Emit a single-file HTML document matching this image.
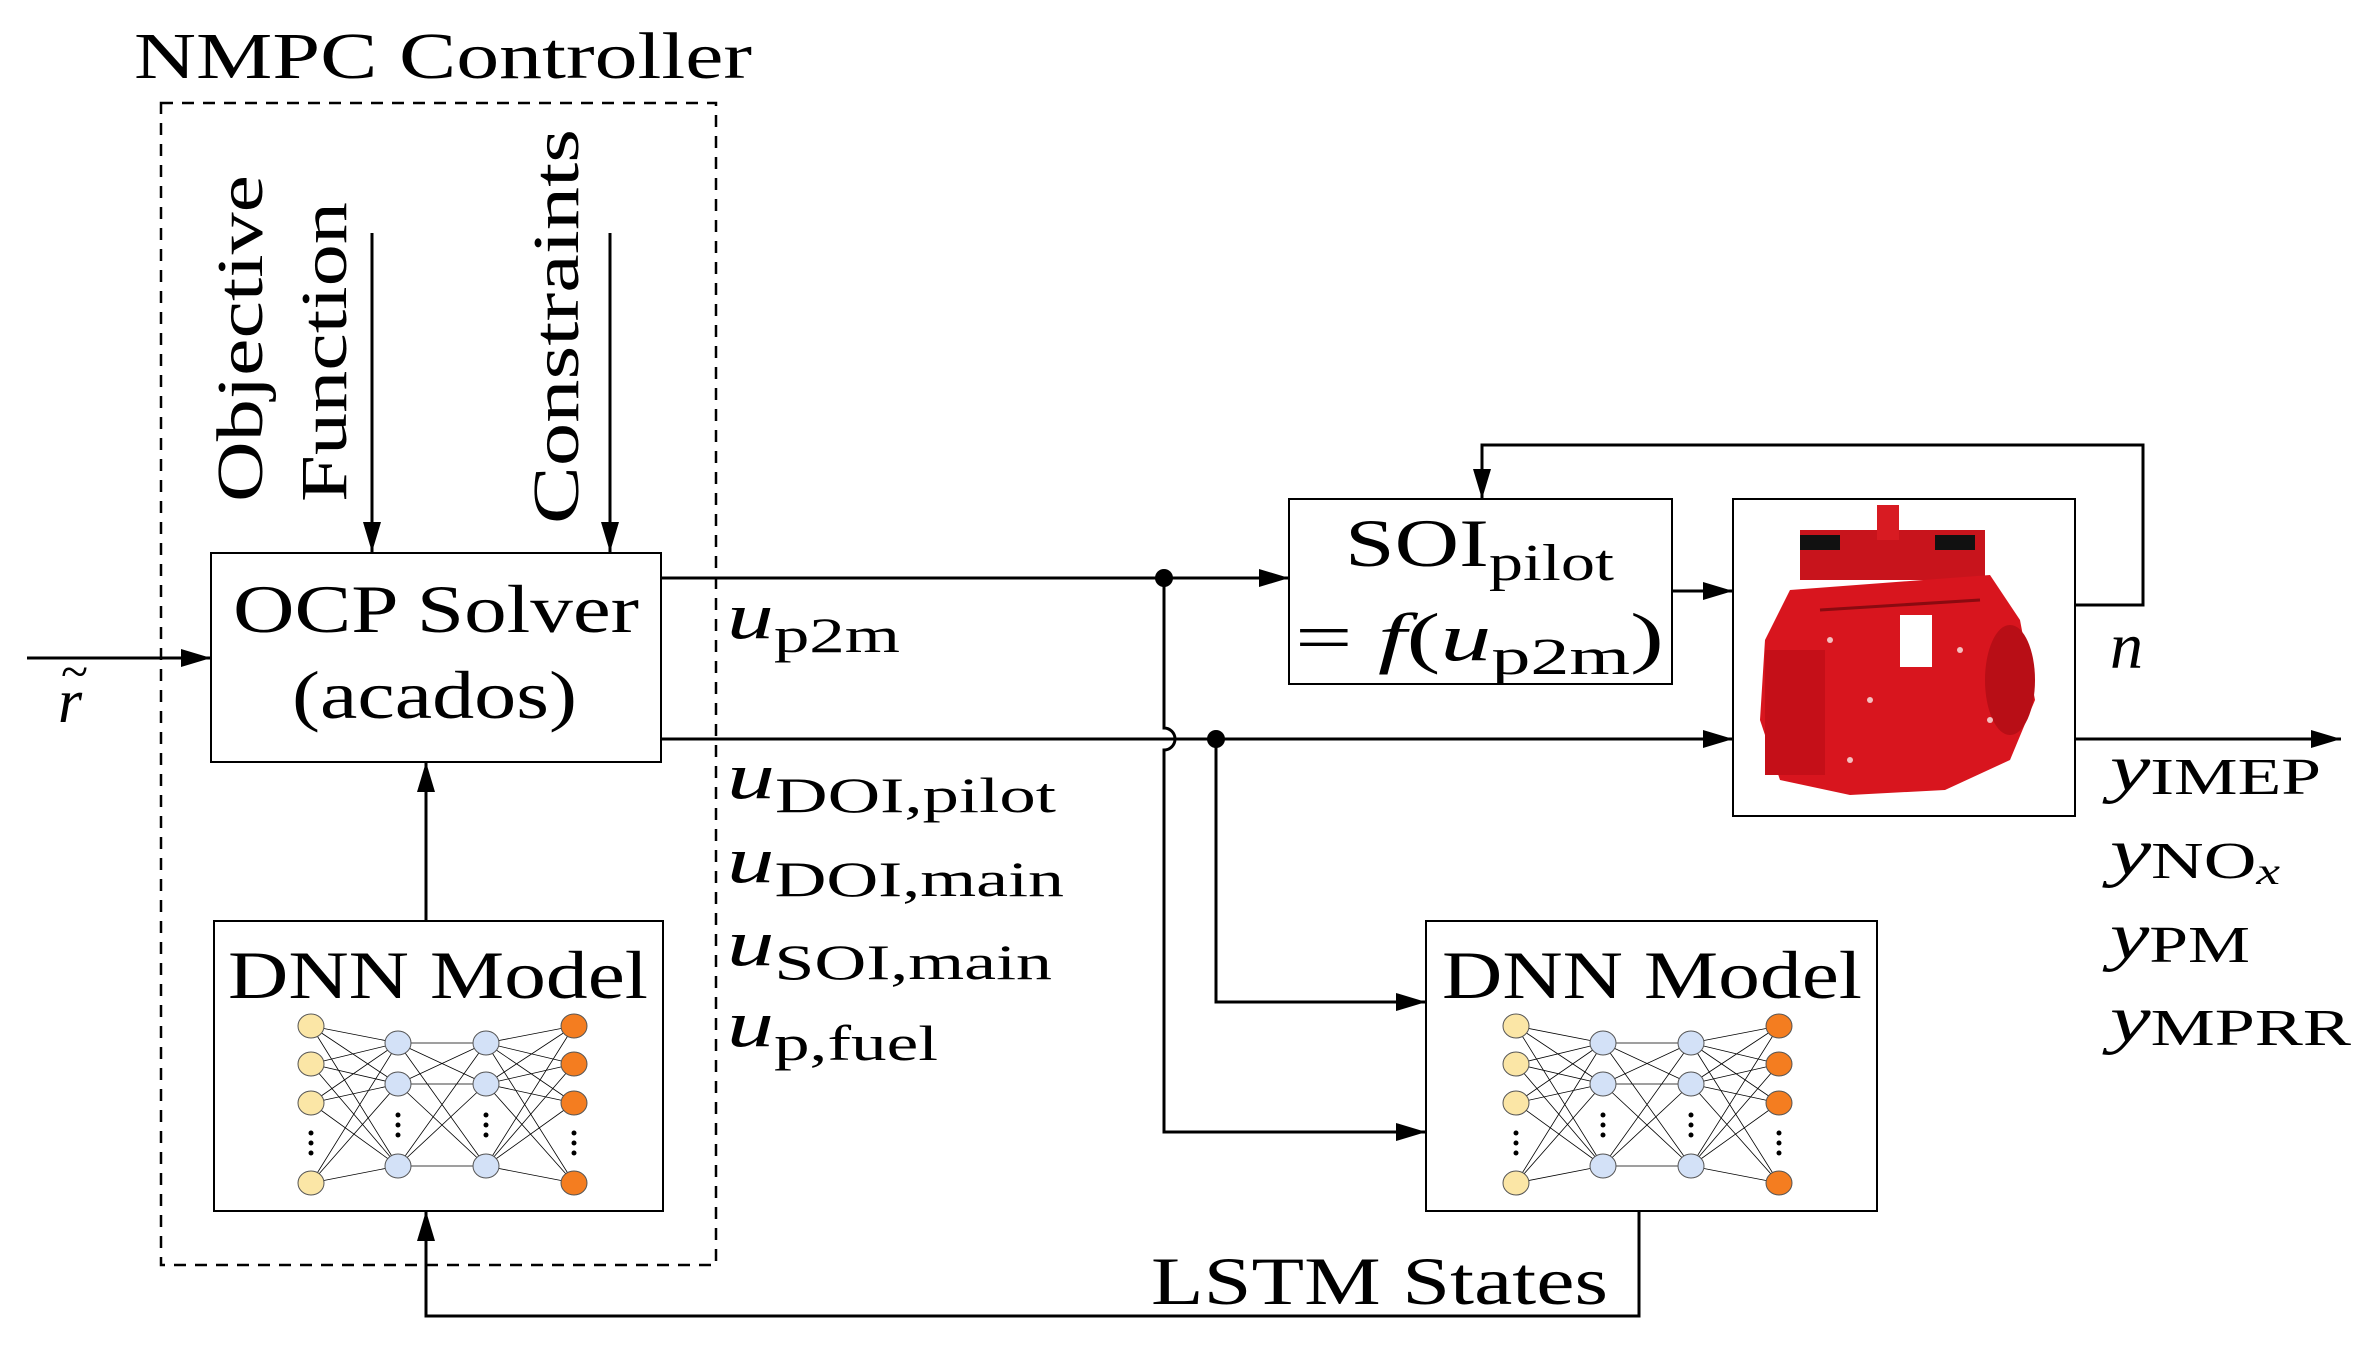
<!DOCTYPE html>
<html><head><meta charset="utf-8"><style>html,body{margin:0;padding:0;background:#fff}svg{display:block}</style></head>
<body>
<svg width="2372" height="1346" viewBox="0 0 2372 1346" xmlns="http://www.w3.org/2000/svg" font-family="Liberation Serif, serif">
<defs>
<marker id="A" viewBox="0 0 10 6" refX="10" refY="3" markerWidth="30" markerHeight="18" orient="auto" markerUnits="userSpaceOnUse"><path d="M0,0 L10,3 L0,6 z" fill="#000"/></marker>
<g id="nn">
 <g stroke="#000" stroke-width="0.8" fill="none">
  <path d="M97,105 L184,122 M97,105 L184,163 M97,105 L184,245 M97,143 L184,122 M97,143 L184,163 M97,143 L184,245 M97,182 L184,122 M97,182 L184,163 M97,182 L184,245 M97,262 L184,122 M97,262 L184,163 M97,262 L184,245"/>
  <path d="M184,122 L272,122 M184,122 L272,163 M184,122 L272,245 M184,163 L272,122 M184,163 L272,163 M184,163 L272,245 M184,245 L272,122 M184,245 L272,163 M184,245 L272,245"/>
  <path d="M272,122 L360,105 M272,122 L360,143 M272,122 L360,182 M272,122 L360,262 M272,163 L360,105 M272,163 L360,143 M272,163 L360,182 M272,163 L360,262 M272,245 L360,105 M272,245 L360,143 M272,245 L360,182 M272,245 L360,262"/>
 </g>
 <g stroke="#555" stroke-width="1">
  <ellipse cx="97" cy="105" rx="13" ry="12" fill="#fbe6a6"/><ellipse cx="97" cy="143" rx="13" ry="12" fill="#fbe6a6"/><ellipse cx="97" cy="182" rx="13" ry="12" fill="#fbe6a6"/><ellipse cx="97" cy="262" rx="13" ry="12" fill="#fbe6a6"/>
  <ellipse cx="184" cy="122" rx="13" ry="12" fill="#d3e1f7"/><ellipse cx="184" cy="163" rx="13" ry="12" fill="#d3e1f7"/><ellipse cx="184" cy="245" rx="13" ry="12" fill="#d3e1f7"/>
  <ellipse cx="272" cy="122" rx="13" ry="12" fill="#d3e1f7"/><ellipse cx="272" cy="163" rx="13" ry="12" fill="#d3e1f7"/><ellipse cx="272" cy="245" rx="13" ry="12" fill="#d3e1f7"/>
  <ellipse cx="360" cy="105" rx="13" ry="12" fill="#f47d20"/><ellipse cx="360" cy="143" rx="13" ry="12" fill="#f47d20"/><ellipse cx="360" cy="182" rx="13" ry="12" fill="#f47d20"/><ellipse cx="360" cy="262" rx="13" ry="12" fill="#f47d20"/>
 </g>
 <g fill="#000">
  <circle cx="97" cy="212" r="2.5"/><circle cx="97" cy="222" r="2.5"/><circle cx="97" cy="232" r="2.5"/>
  <circle cx="184" cy="194" r="2.5"/><circle cx="184" cy="204" r="2.5"/><circle cx="184" cy="214" r="2.5"/>
  <circle cx="272" cy="194" r="2.5"/><circle cx="272" cy="204" r="2.5"/><circle cx="272" cy="214" r="2.5"/>
  <circle cx="360" cy="212" r="2.5"/><circle cx="360" cy="222" r="2.5"/><circle cx="360" cy="232" r="2.5"/>
 </g>
</g>
</defs>

<text x="134" y="78" font-size="66" textLength="618" lengthAdjust="spacingAndGlyphs">NMPC Controller</text>
<rect x="161" y="103" width="555" height="1162" fill="none" stroke="#000" stroke-width="2.5" stroke-dasharray="12,9"/>

<text transform="translate(262,502) rotate(-90)" font-size="66" textLength="327" lengthAdjust="spacingAndGlyphs">Objective</text>
<text transform="translate(346,502) rotate(-90)" font-size="66" textLength="300" lengthAdjust="spacingAndGlyphs">Function</text>
<text transform="translate(578,524) rotate(-90)" font-size="66" textLength="395" lengthAdjust="spacingAndGlyphs">Constraints</text>
<g stroke="#000" stroke-width="3" fill="none" marker-end="url(#A)">
 <line x1="372" y1="233" x2="372" y2="552"/>
 <line x1="610" y1="233" x2="610" y2="552"/>
</g>

<rect x="211" y="553" width="450" height="209" fill="#fff" stroke="#000" stroke-width="2"/>
<text x="233" y="632" font-size="68" textLength="406" lengthAdjust="spacingAndGlyphs">OCP Solver</text>
<text x="292" y="718" font-size="68" textLength="285" lengthAdjust="spacingAndGlyphs">(acados)</text>

<line x1="27" y1="658" x2="211" y2="658" stroke="#000" stroke-width="3" marker-end="url(#A)"/>
<text x="58" y="722" font-size="62" font-style="italic">r</text>
<text x="61" y="688" font-size="50">~</text>

<rect x="214" y="921" width="449" height="290" fill="#fff" stroke="#000" stroke-width="2"/>
<text x="228" y="998" font-size="68" textLength="420" lengthAdjust="spacingAndGlyphs">DNN Model</text>
<use href="#nn" x="214" y="921"/>
<line x1="426" y1="921" x2="426" y2="762" stroke="#000" stroke-width="3" marker-end="url(#A)"/>

<g stroke="#000" stroke-width="3" fill="none">
 <line x1="661" y1="578" x2="1289" y2="578" marker-end="url(#A)"/>
 <path d="M661,739 L1733,739" marker-end="url(#A)"/>
 <path d="M1164,578 L1164,728 A11,11 0 0 1 1164,750 L1164,1132 L1426,1132" marker-end="url(#A)"/>
 <path d="M1216,739 L1216,1002 L1426,1002" marker-end="url(#A)"/>
 <line x1="1672" y1="591" x2="1733" y2="591" marker-end="url(#A)"/>
 <path d="M2075,605 L2143,605 L2143,445 L1482,445 L1482,499" marker-end="url(#A)"/>
 <line x1="2075" y1="739" x2="2341" y2="739" marker-end="url(#A)"/>
 <path d="M1639,1211 L1639,1316 L426,1316 L426,1211" marker-end="url(#A)"/>
</g>
<circle cx="1164" cy="578" r="9" fill="#000"/>
<circle cx="1216" cy="739" r="9" fill="#000"/>

<g font-size="66">
 <text x="727" y="638" textLength="173" lengthAdjust="spacingAndGlyphs"><tspan font-style="italic">u</tspan><tspan font-size="50" dy="14">p2m</tspan></text>
 <text x="727" y="798" textLength="329" lengthAdjust="spacingAndGlyphs"><tspan font-style="italic">u</tspan><tspan font-size="50" dy="14">DOI,pilot</tspan></text>
 <text x="727" y="882" textLength="337" lengthAdjust="spacingAndGlyphs"><tspan font-style="italic">u</tspan><tspan font-size="50" dy="14">DOI,main</tspan></text>
 <text x="727" y="965" textLength="325" lengthAdjust="spacingAndGlyphs"><tspan font-style="italic">u</tspan><tspan font-size="50" dy="14">SOI,main</tspan></text>
 <text x="727" y="1046" textLength="211" lengthAdjust="spacingAndGlyphs"><tspan font-style="italic">u</tspan><tspan font-size="50" dy="14">p,fuel</tspan></text>
</g>

<rect x="1289" y="499" width="383" height="185" fill="#fff" stroke="#000" stroke-width="2"/>
<text x="1345" y="566" font-size="68" textLength="269" lengthAdjust="spacingAndGlyphs">SOI<tspan font-size="52" dy="14">pilot</tspan></text>
<text x="1295" y="660" font-size="68" textLength="369" lengthAdjust="spacingAndGlyphs">= <tspan font-style="italic">f</tspan>(<tspan font-style="italic">u</tspan><tspan font-size="52" dy="14">p2m</tspan><tspan dy="-14">)</tspan></text>

<rect x="1733" y="499" width="342" height="317" fill="#fff" stroke="#000" stroke-width="2"/>
<g>
 <rect x="1800" y="530" width="185" height="50" fill="#c8141c"/>
 <rect x="1800" y="535" width="40" height="15" fill="#111"/>
 <rect x="1935" y="535" width="40" height="15" fill="#111"/>
 <rect x="1877" y="505" width="22" height="35" fill="#d81b22"/>
 <path d="M1765,640 L1790,590 L1990,575 L2020,620 L2035,700 L2010,760 L1945,790 L1850,795 L1780,780 L1760,720 z" fill="#d8151e"/>
 <rect x="1765" y="650" width="60" height="125" fill="#c50f18"/>
 <ellipse cx="2010" cy="680" rx="25" ry="55" fill="#b80e16"/>
 <rect x="1900" y="615" width="32" height="52" fill="#fff"/>
 <path d="M1820,610 L1980,600" stroke="#8a0a10" stroke-width="3"/>
 <g fill="#f3c0c0"><circle cx="1830" cy="640" r="3"/><circle cx="1870" cy="700" r="3"/><circle cx="1960" cy="650" r="3"/><circle cx="1990" cy="720" r="3"/><circle cx="1850" cy="760" r="3"/></g>
</g>

<text x="2110" y="668" font-size="66" font-style="italic">n</text>
<g font-size="66">
 <text x="2110" y="790" textLength="211" lengthAdjust="spacingAndGlyphs"><tspan font-style="italic">y</tspan><tspan font-size="52" dy="4">IMEP</tspan></text>
 <text x="2110" y="874" textLength="170" lengthAdjust="spacingAndGlyphs"><tspan font-style="italic">y</tspan><tspan font-size="52" dy="4">NO</tspan><tspan font-size="38" dy="6" font-style="italic">x</tspan></text>
 <text x="2110" y="958" textLength="140" lengthAdjust="spacingAndGlyphs"><tspan font-style="italic">y</tspan><tspan font-size="52" dy="4">PM</tspan></text>
 <text x="2110" y="1041" textLength="241" lengthAdjust="spacingAndGlyphs"><tspan font-style="italic">y</tspan><tspan font-size="52" dy="4">MPRR</tspan></text>
</g>

<rect x="1426" y="921" width="451" height="290" fill="#fff" stroke="#000" stroke-width="2"/>
<text x="1442" y="998" font-size="68" textLength="420" lengthAdjust="spacingAndGlyphs">DNN Model</text>
<use href="#nn" x="1419" y="921"/>

<text x="1151" y="1304" font-size="68" textLength="457" lengthAdjust="spacingAndGlyphs">LSTM States</text>
</svg>
</body></html>
